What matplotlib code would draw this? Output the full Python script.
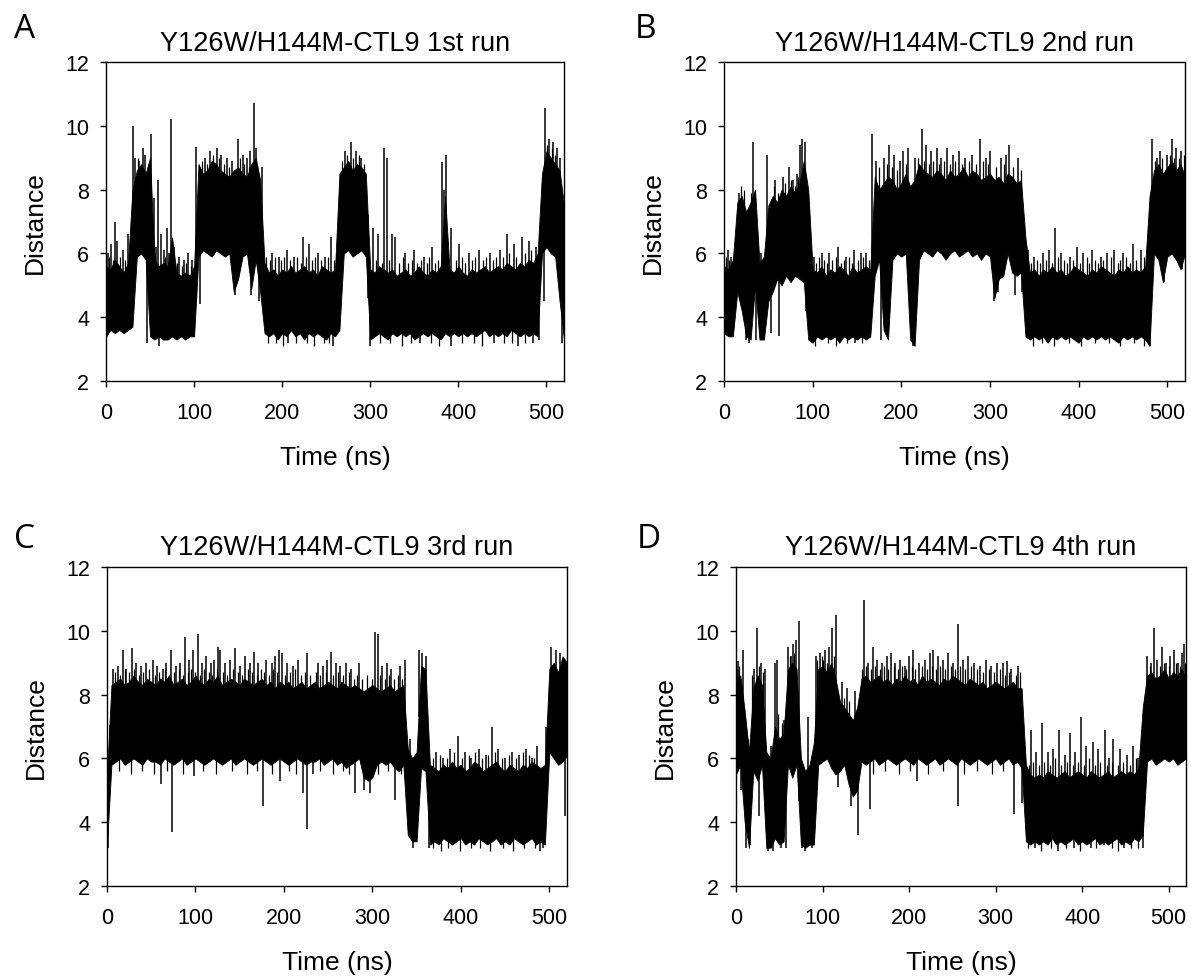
import numpy as np
import matplotlib
matplotlib.use("Agg")
import matplotlib.pyplot as plt

plt.rcParams['font.family'] = ['Liberation Sans', 'DejaVu Sans']

# time grid of the read-off envelope (ns)
time_ns = np.arange(0, 521, 5)

# ---- run 1 (A): lower / upper edge of the trace every 5 ns ----
a_lo = [3.4, 3.6, 3.5, 3.6, 3.5, 3.6, 3.7, 5.9, 6.0, 5.8,   # 0-45
        3.4, 3.3, 3.4, 3.3, 3.3, 3.4, 3.3, 3.4, 3.3, 3.4,   # 50-95
        3.4, 5.9, 6.1, 6.0, 5.9, 6.1, 6.0, 5.9, 6.0, 4.8,   # 100-145
        5.2, 5.9, 6.0, 4.9, 5.8, 4.8, 3.5, 3.4, 3.5, 3.3,   # 150-195
        3.5, 3.4, 3.6, 3.4, 3.5, 3.3, 3.5, 3.4, 3.5, 3.4,   # 200-245
        3.3, 3.5, 3.4, 3.6, 6.0, 6.1, 5.9, 6.0, 6.1, 5.9,   # 250-295
        3.3, 3.4, 3.5, 3.4, 3.3, 3.5, 3.4, 3.5, 3.4, 3.5,   # 300-345
        3.3, 3.4, 3.5, 3.4, 3.5, 3.4, 3.3, 3.5, 3.4, 3.5,   # 350-395
        3.4, 3.5, 3.4, 3.5, 3.4, 3.5, 3.6, 3.4, 3.5, 3.4,   # 400-445
        3.5, 3.4, 3.6, 3.5, 3.4, 3.5, 3.4, 3.5, 3.4, 6.0,   # 450-495
        6.2, 6.0, 5.9, 4.5, 3.3]                            # 500-520
a_hi = [5.6, 5.5, 5.8, 5.6, 5.4, 5.7, 8.0, 8.6, 8.8, 8.5,
        9.0, 5.8, 5.6, 5.7, 5.6, 6.5, 5.4, 5.3, 5.4, 5.3,
        5.6, 8.8, 8.5, 8.6, 8.9, 8.8, 8.6, 8.5, 8.4, 8.6,
        8.7, 8.5, 8.4, 8.8, 9.0, 8.3, 5.7, 5.4, 5.5, 5.3,
        5.5, 5.4, 5.6, 5.4, 5.5, 5.6, 5.4, 5.5, 5.3, 5.6,
        5.5, 5.4, 5.5, 8.5, 8.7, 8.9, 8.6, 8.8, 8.7, 8.5,
        5.5, 5.4, 5.6, 5.5, 5.4, 5.5, 5.3, 5.4, 5.5, 5.3,
        5.4, 5.6, 5.4, 5.3, 5.5, 5.4, 5.6, 7.8, 5.5, 5.4,
        5.6, 5.4, 5.3, 5.5, 5.4, 5.5, 5.6, 5.4, 5.5, 5.6,
        5.5, 5.7, 5.6, 5.5, 5.7, 5.6, 5.8, 5.7, 6.0, 8.5,
        9.2, 9.0, 8.8, 8.6, 7.5]
# single excursions beyond the band: (time, distance)
a_spikes = [(2, 6.0), (6, 6.3), (10, 7.0), (13, 6.4), (19, 6.1), (25, 6.6), (28, 5.9),
            (30.3, 10.0), (33, 9.0), (38, 8.9), (41.7, 9.3), (44, 9.1), (47, 3.2), (50.8, 9.74),
            (54, 7.75), (57, 6.2), (59.5, 8.3), (60, 3.1), (63, 6.6), (66, 6.1), (69, 6.8),
            (72, 6.0), (74, 10.2), (77, 6.2), (83, 5.9), (88, 5.8), (93, 6.0), (98, 5.8),
            (102, 9.35), (107, 4.4), (112, 9.0), (118, 9.2), (126, 9.3), (131, 9.1), (137, 9.0),
            (143, 8.9), (147, 4.7), (150, 9.6), (155, 9.1), (160, 9.0), (164, 9.2), (165, 4.7),
            (168.5, 10.7), (170, 9.3), (174, 4.5), (177, 8.7), (188, 6.0), (196, 5.9), (205, 6.1),
            (207, 3.2), (214, 5.9), (224, 6.5), (230, 6.3), (241, 6.0), (249, 5.9), (255.7, 6.5),
            (258, 3.1), (262, 6.0), (271.6, 9.2), (278, 9.5), (284, 9.2), (290, 9.0), (297, 4.6),
            (300, 3.1), (303, 6.8), (309, 6.6), (315.8, 9.3), (318.9, 9.0), (324.8, 6.6),
            (328.4, 6.5), (340, 6.0), (350, 6.1), (356, 3.2), (361, 5.9), (370, 6.2), (381.4, 8.85),
            (384, 8.0), (386, 9.1), (391.7, 6.8), (392, 3.1), (400.4, 6.3), (412, 6.0), (424, 6.1),
            (436, 6.0), (440, 3.2), (447, 6.1), (455, 6.6), (463, 6.3), (468, 3.1), (472.7, 6.5),
            (480, 6.4), (485, 3.2), (488, 6.2), (492, 3.3), (497, 4.5), (498, 10.57), (503, 9.6),
            (508, 9.5), (512, 9.3), (516, 9.0), (518, 3.2)]
# short hairs on the band edges: (time, distance)
a_hairs = [(3, 5.9), (8, 5.8), (16, 5.9), (22, 5.8), (36, 9.0), (40, 8.7), (56, 6.0), (67, 5.9),
           (81, 5.7), (86, 5.6), (91, 5.7), (96, 5.6), (109, 8.9), (115, 8.8), (121, 9.1),
           (128, 9.0), (134, 8.8), (140, 8.7), (152, 9.0), (157, 8.8), (162, 8.7), (182, 5.9),
           (186, 5.8), (192, 5.9), (199, 5.8), (202, 5.9), (209, 5.8), (217, 5.9), (221, 5.7),
           (227, 5.9), (234, 5.8), (237, 5.9), (244, 5.8), (252, 5.9), (259, 5.8), (184, 3.2),
           (193, 3.2), (201, 3.1), (216, 3.2), (228, 3.2), (236, 3.1), (247, 3.2), (253, 3.2),
           (268, 8.9), (274, 9.1), (281, 9.0), (287, 9.1), (293, 8.8), (306, 5.8), (313, 5.7),
           (321, 5.8), (333, 5.7), (337, 5.9), (343, 5.7), (347, 5.8), (353, 5.7), (358, 5.8),
           (364, 5.7), (367, 5.9), (374, 5.7), (377, 5.8), (397, 5.8), (404, 5.9), (408, 5.7),
           (415, 5.8), (419, 5.9), (428, 5.8), (432, 5.9), (439, 5.8), (443, 5.9), (451, 5.9),
           (458, 6.0), (466, 5.9), (476, 6.0), (483, 6.1), (311, 3.2), (322, 3.2), (336, 3.1),
           (346, 3.2), (369, 3.2), (378, 3.1), (404, 3.2), (418, 3.2), (427, 3.1), (452, 3.2),
           (461, 3.2), (476, 3.2), (501, 9.4), (506, 9.3), (510, 9.1)]

# ---- run 2 (B) ----
b_lo = [3.5, 3.4, 3.4, 4.8, 4.2, 3.4, 3.3, 5.0, 3.3, 3.3,
        4.5, 4.8, 5.2, 5.0, 5.3, 5.1, 5.3, 5.2, 5.1, 3.3,
        3.2, 3.4, 3.3, 3.4, 3.3, 3.4, 3.2, 3.4, 3.3, 3.4,
        3.3, 3.4, 3.3, 3.4, 5.3, 5.8, 3.6, 3.3, 5.8, 6.0,
        5.9, 6.0, 3.3, 3.1, 5.8, 6.1, 6.0, 5.9, 6.1, 6.0,
        5.8, 6.0, 6.1, 5.9, 6.0, 6.1, 5.9, 6.0, 5.8, 6.0,
        5.9, 4.6, 5.2, 5.3, 6.0, 5.4, 5.3, 5.4, 3.4, 3.3,
        3.4, 3.3, 3.4, 3.2, 3.4, 3.3, 3.4, 3.3, 3.4, 3.3,
        3.2, 3.4, 3.3, 3.4, 3.3, 3.4, 3.3, 3.4, 3.3, 3.2,
        3.4, 3.3, 3.4, 3.3, 3.4, 3.3, 3.1, 6.0, 5.8, 5.1,
        5.9, 6.0, 5.8, 5.5, 6.0]
b_hi = [5.6, 5.5, 5.8, 7.6, 7.8, 7.3, 7.6, 8.0, 5.7, 5.9,
        7.5, 7.8, 7.6, 8.0, 7.8, 8.1, 7.9, 8.2, 8.9, 8.0,
        5.5, 5.4, 5.6, 5.3, 5.5, 5.4, 5.6, 5.5, 5.3, 5.6,
        5.4, 5.5, 5.6, 5.5, 8.4, 8.0, 8.2, 8.4, 8.3, 8.0,
        8.2, 8.5, 8.1, 8.3, 8.8, 8.6, 8.5, 8.4, 8.6, 8.5,
        8.3, 8.6, 8.4, 8.5, 8.7, 8.4, 8.6, 8.5, 8.3, 8.4,
        8.5, 8.3, 8.4, 8.2, 8.5, 8.4, 8.2, 8.3, 6.5, 5.4,
        5.5, 5.3, 5.5, 5.4, 5.6, 5.4, 5.5, 5.3, 5.4, 5.6,
        5.5, 5.4, 5.3, 5.5, 5.4, 5.6, 5.5, 5.4, 5.3, 5.5,
        5.4, 5.6, 5.4, 5.5, 5.4, 5.6, 7.8, 8.6, 8.8, 8.5,
        8.7, 8.9, 8.6, 8.8, 8.4]
b_spikes = [(4, 6.1), (8, 5.9), (14.6, 6.1), (17, 7.9), (21, 7.6), (25, 3.3), (28, 3.2), (33, 9.5),
            (36, 3.3), (42, 6.0), (49, 9.1), (53, 3.5), (58, 8.3), (62, 3.4), (66, 8.4), (73, 8.7),
            (78, 8.3), (82, 8.5), (86, 9.4), (88, 9.6), (91, 9.5), (93, 4.2), (101, 5.9), (110, 6.0),
            (119, 6.0), (129, 6.2), (138, 5.9), (147, 6.1), (148, 3.2), (155, 6.0), (160, 6.0),
            (167, 9.75), (172, 8.9), (177, 3.3), (181, 9.0), (186, 9.4), (192, 9.1), (198, 8.9),
            (202, 9.2), (207, 9.3), (213, 3.1), (216, 9.0), (223, 9.9), (228, 9.4), (233, 9.2),
            (240, 9.3), (245, 9.0), (252, 9.3), (258, 9.1), (265, 9.2), (272, 9.0), (280, 9.1),
            (289, 9.6), (295, 9.0), (300, 9.2), (304, 4.5), (309, 4.8), (313, 9.0), (318, 9.1),
            (322, 9.4), (328, 4.7), (332, 9.0), (336, 4.8), (343, 6.1), (350, 5.9), (360, 6.0),
            (367, 6.1), (373.6, 6.8), (380, 6.0), (390, 5.9), (398, 6.2), (405, 6.0), (415, 6.1),
            (425, 5.9), (432, 6.0), (440, 6.1), (450, 6.0), (461, 6.3), (470, 6.1), (478, 6.0),
            (481, 3.1), (483, 9.6), (488, 9.0), (492, 9.2), (496, 5.1), (500, 9.1), (505, 9.6),
            (510, 9.3), (515, 9.2), (517, 5.5)]
b_hairs = [(2, 5.9), (6, 5.8), (11, 6.0), (19, 8.1), (23, 8.0), (31, 7.9), (56, 8.1), (61, 7.9),
           (69, 8.2), (76, 8.3), (80, 8.1), (84, 8.4), (98, 5.8), (104, 5.7), (107, 5.9), (113, 5.8),
           (116, 5.7), (122, 5.8), (126, 5.9), (132, 5.7), (135, 5.8), (141, 5.9), (144, 5.7),
           (151, 5.8), (157, 5.9), (163, 5.8), (103, 3.1), (117, 3.2), (126, 3.1), (139, 3.2),
           (156, 3.2), (175, 8.7), (184, 8.8), (189, 8.7), (195, 8.6), (205, 8.8), (219, 9.0),
           (226, 8.9), (231, 8.8), (236, 8.9), (243, 8.8), (248, 8.9), (255, 8.8), (261, 8.9),
           (268, 8.8), (276, 8.9), (284, 8.8), (292, 8.9), (298, 8.8), (307, 8.7), (316, 8.8),
           (326, 8.7), (335, 8.6), (346, 5.7), (353, 5.8), (357, 5.7), (363, 5.8), (370, 5.7),
           (377, 5.9), (384, 5.8), (387, 5.7), (394, 5.8), (402, 5.7), (409, 5.9), (412, 5.7),
           (419, 5.8), (422, 5.7), (428, 5.8), (436, 5.9), (444, 5.7), (447, 5.8), (454, 5.9),
           (458, 5.7), (465, 5.8), (474, 5.9), (348, 3.1), (359, 3.2), (372, 3.1), (389, 3.2),
           (403, 3.1), (418, 3.2), (434, 3.2), (447, 3.1), (462, 3.2), (474, 3.1), (486, 8.9),
           (494, 9.0), (503, 9.1), (508, 9.0), (513, 9.0), (519, 9.1)]

# ---- run 3 (C) ----
c_lo = [3.3, 5.8, 5.9, 6.0, 5.8, 5.9, 6.0, 5.9, 5.8, 6.0,
        5.9, 5.9, 5.8, 6.0, 5.9, 5.8, 5.9, 6.0, 5.8, 5.9,
        6.0, 5.9, 5.8, 5.9, 6.0, 5.9, 5.8, 5.9, 6.0, 5.8,
        5.9, 6.0, 5.9, 5.8, 5.9, 6.0, 5.9, 5.8, 5.9, 6.0,
        5.9, 5.8, 5.9, 6.0, 5.9, 5.8, 5.9, 5.9, 6.0, 5.8,
        5.9, 6.0, 5.8, 5.9, 5.7, 5.8, 5.9, 6.0, 5.4, 5.3,
        5.4, 5.8, 5.9, 5.8, 5.9, 5.7, 5.6, 5.8, 3.6, 3.4,
        3.4, 5.7, 5.6, 3.3, 3.4, 3.3, 3.5, 3.4, 3.3, 3.4,
        3.5, 3.3, 3.4, 3.3, 3.5, 3.4, 3.3, 3.4, 3.5, 3.3,
        3.4, 3.3, 3.5, 3.4, 3.3, 3.4, 3.5, 3.3, 3.4, 3.3,
        6.2, 6.0, 5.8, 5.9, 6.1]
c_hi = [5.5, 8.3, 8.4, 8.5, 8.3, 8.4, 8.6, 8.4, 8.3, 8.5,
        8.4, 8.3, 8.5, 8.4, 8.6, 8.3, 8.4, 8.5, 8.3, 8.4,
        8.6, 8.4, 8.3, 8.5, 8.4, 8.6, 8.3, 8.4, 8.5, 8.4,
        8.3, 8.5, 8.4, 8.3, 8.4, 8.5, 8.3, 8.4, 8.2, 8.4,
        8.3, 8.4, 8.2, 8.3, 8.4, 8.2, 8.3, 8.4, 8.2, 8.3,
        8.4, 8.3, 8.2, 8.4, 8.3, 8.2, 8.3, 8.2, 8.1, 8.2,
        8.3, 8.2, 8.1, 8.2, 8.3, 8.1, 8.2, 8.3, 6.3, 6.0,
        6.2, 8.9, 8.8, 5.8, 5.7, 5.6, 5.8, 5.7, 5.9, 5.7,
        5.8, 5.6, 5.7, 5.9, 5.8, 5.6, 5.7, 5.8, 5.9, 5.7,
        5.6, 5.8, 5.7, 5.6, 5.8, 5.7, 5.9, 5.8, 5.7, 5.8,
        8.8, 9.0, 8.7, 9.2, 9.0]
c_spikes = [(1, 3.2), (3, 5.6), (7, 8.8), (12, 8.9), (17.7, 9.4), (22, 8.8), (28, 9.45), (33, 9.0),
            (38, 8.9), (44, 9.0), (51.6, 9.1), (56, 8.9), (61, 5.2), (63, 8.8), (67, 9.0), (72, 9.4),
            (74, 3.7), (78, 8.9), (83, 9.0), (88, 9.8), (93, 9.1), (97, 9.4), (98, 5.45),
            (102.5, 9.9), (107, 9.0), (112, 9.2), (117, 9.0), (121, 9.1), (126, 9.5), (128, 9.4),
            (133, 9.0), (139, 9.1), (145, 9.45), (150, 8.9), (156, 9.2), (162, 9.0), (166, 9.35),
            (171, 9.0), (176, 4.5), (180, 9.1), (186, 9.0), (190, 9.2), (194, 9.4), (196, 5.3),
            (198, 9.3), (204, 9.0), (210, 8.9), (216, 9.1), (222, 4.9), (226, 9.3), (226.5, 3.8),
            (233, 5.5), (238, 9.0), (244, 8.9), (249, 9.1), (253, 9.35), (258.5, 9.0), (263, 8.9),
            (270, 9.0), (276, 8.8), (280, 4.9), (285, 9.0), (290, 5.0), (297, 4.9), (303, 9.95),
            (306, 9.9), (311, 8.9), (316, 9.0), (321, 8.8), (326, 4.7), (331, 8.9), (337, 9.1),
            (342, 6.6), (346, 3.2), (353, 9.4), (356, 9.3), (361, 9.2), (364, 3.2), (372, 6.2),
            (380, 6.0), (388, 6.3), (397, 6.7), (405, 6.2), (412, 6.0), (420, 6.3), (428, 6.1),
            (435, 7.0), (442, 6.3), (450, 6.0), (458, 6.2), (466, 6.1), (474, 6.3), (480, 6.0),
            (486, 6.4), (490, 3.1), (493, 3.2), (496, 7.0), (502, 9.5), (507, 9.4), (512, 9.3),
            (518, 4.2)]
c_hairs = [(9, 8.7), (15, 8.6), (20, 8.8), (25, 8.7), (31, 8.8), (36, 8.6), (41, 8.7), (47, 8.8),
           (54, 8.6), (59, 8.7), (65, 8.8), (70, 8.6), (76, 8.7), (81, 8.8), (86, 8.6), (91, 8.7),
           (95, 8.8), (100, 8.7), (105, 8.6), (110, 8.8), (115, 8.7), (119, 8.6), (124, 8.8),
           (131, 8.7), (136, 8.6), (142, 8.8), (148, 8.7), (153, 8.6), (159, 8.8), (164, 8.7),
           (169, 8.6), (174, 8.8), (178, 8.7), (183, 8.6), (188, 8.8), (192, 8.7), (201, 8.6),
           (207, 8.7), (213, 8.8), (219, 8.6), (224, 8.7), (230, 8.6), (236, 8.7), (241, 8.6),
           (247, 8.7), (256, 8.6), (261, 8.7), (267, 8.6), (273, 8.7), (279, 8.5), (283, 8.6),
           (288, 8.5), (294, 8.6), (299, 8.5), (309, 8.6), (314, 8.5), (319, 8.6), (324, 8.5),
           (329, 8.6), (334, 8.5), (14, 5.6), (27, 5.5), (39, 5.6), (53, 5.5), (68, 5.6), (86, 5.5),
           (109, 5.6), (123, 5.5), (141, 5.6), (158, 5.5), (169, 5.6), (187, 5.5), (206, 5.6),
           (214, 5.5), (241, 5.6), (256, 5.5), (267, 5.6), (274, 5.5), (306, 5.5), (318, 5.6),
           (332, 5.5), (368, 6.0), (376, 6.1), (384, 6.0), (392, 6.2), (401, 6.0), (409, 6.1),
           (416, 6.2), (424, 6.0), (431, 6.1), (439, 6.2), (446, 6.0), (454, 6.1), (462, 6.0),
           (470, 6.2), (477, 6.1), (483, 6.0), (369, 3.2), (378, 3.1), (386, 3.2), (399, 3.1),
           (411, 3.2), (422, 3.2), (433, 3.1), (448, 3.2), (459, 3.1), (471, 3.2), (484, 3.2)]

# ---- run 4 (D) ----
d_lo = [5.5, 5.8, 4.0, 3.2, 5.6, 5.3, 5.8, 3.2, 3.2, 3.5,
        3.3, 3.4, 5.8, 5.4, 5.8, 3.3, 3.2, 3.3, 3.3, 5.8,
        5.9, 6.0, 5.7, 5.5, 5.6, 5.8, 5.2, 4.8, 5.0, 5.9,
        5.8, 5.9, 6.0, 5.8, 5.9, 6.0, 5.9, 5.8, 5.9, 6.0,
        5.9, 5.8, 6.0, 5.9, 5.8, 5.9, 6.0, 5.8, 5.9, 6.0,
        5.9, 5.8, 6.0, 5.9, 5.8, 5.9, 6.0, 5.9, 5.8, 5.9,
        6.0, 5.8, 5.9, 6.0, 5.8, 5.9, 5.7, 3.4, 3.3, 3.4,
        3.3, 3.4, 3.3, 3.5, 3.3, 3.4, 3.3, 3.4, 3.5, 3.3,
        3.4, 3.3, 3.4, 3.5, 3.3, 3.4, 3.3, 3.4, 3.5, 3.3,
        3.4, 3.3, 3.5, 3.4, 3.6, 5.9, 6.0, 5.8, 5.9, 6.0,
        5.9, 6.0, 5.8, 5.9, 6.0]
d_hi = [8.5, 8.6, 7.5, 6.2, 8.2, 8.6, 8.3, 6.2, 6.0, 7.0,
        6.6, 6.8, 8.8, 9.0, 8.8, 6.0, 5.6, 5.8, 6.5, 8.8,
        8.9, 8.7, 9.0, 8.5, 7.8, 7.6, 7.4, 7.2, 7.6, 8.5,
        8.6, 8.4, 8.5, 8.6, 8.4, 8.5, 8.3, 8.5, 8.4, 8.6,
        8.4, 8.5, 8.3, 8.6, 8.4, 8.5, 8.4, 8.3, 8.5, 8.4,
        8.6, 8.5, 8.4, 8.3, 8.5, 8.4, 8.3, 8.4, 8.2, 8.3,
        8.4, 8.3, 8.2, 8.3, 8.4, 8.2, 8.2, 5.8, 5.5, 5.4,
        5.5, 5.4, 5.6, 5.5, 5.4, 5.5, 5.6, 5.4, 5.5, 5.6,
        5.5, 5.4, 5.6, 5.5, 5.4, 5.5, 5.6, 5.4, 5.5, 5.6,
        5.5, 5.6, 5.5, 5.7, 7.6, 8.6, 8.7, 8.5, 8.6, 8.8,
        8.5, 8.7, 8.6, 8.8, 8.5]
d_spikes = [(2.7, 9.06), (6, 5.0), (8.5, 9.4), (12, 3.2), (16, 3.3), (18, 6.8), (21, 8.8),
            (24, 10.1), (27, 4.2), (29, 9.0), (33, 8.8), (37, 3.1), (41, 6.4), (43, 3.1), (45, 9.0),
            (47, 9.1), (52, 3.2), (55, 7.2), (58, 3.2), (60, 9.5), (63, 9.2), (66, 9.6), (69, 9.7),
            (73, 10.3), (76, 3.2), (80, 3.1), (83.6, 7.3), (88, 3.2), (92, 9.2), (97, 9.3),
            (103, 9.4), (107, 9.5), (110.5, 10.1), (115.5, 10.5), (118, 5.1), (122, 8.4),
            (128, 8.2), (133, 4.5), (138, 8.1), (141.4, 3.6), (148, 10.95), (152, 9.0), (155, 4.4),
            (158, 9.5), (163, 9.1), (169, 9.0), (174, 9.2), (179, 9.3), (184, 9.0), (190, 9.1),
            (195, 8.9), (200, 9.2), (205, 9.4), (209, 5.3), (212, 9.0), (218, 9.1), (224, 9.3),
            (228, 9.4), (233, 9.2), (239, 9.1), (245, 9.3), (251, 9.0), (256, 10.2), (256.5, 4.5),
            (262, 9.1), (268, 9.2), (275, 9.0), (282, 8.9), (289, 9.1), (295, 8.9), (302, 9.0),
            (308.9, 9.0), (313, 9.05), (318, 8.8), (321.8, 4.25), (326, 8.9), (330, 4.6),
            (341, 6.9), (345, 3.2), (347, 6.2), (353.6, 7.1), (360, 6.2), (366, 6.3), (372, 3.1),
            (373.5, 6.9), (380, 6.1), (386, 6.8), (390, 3.2), (392, 6.2), (398.8, 7.3), (405, 6.4),
            (410, 3.2), (412, 6.5), (418, 6.3), (425, 3.3), (426.5, 6.9), (431, 6.0), (436, 6.6),
            (444, 6.3), (448, 3.2), (452, 6.1), (459, 6.4), (465, 6.0), (470, 3.2), (475, 9.2),
            (480, 9.0), (483, 10.1), (487, 9.1), (492, 9.5), (497, 9.0), (502, 9.2), (506, 9.4),
            (511, 9.0), (515, 9.3), (518, 9.6)]
d_hairs = [(1, 8.8), (4, 8.9), (14, 6.6), (19, 8.6), (26, 8.9), (31, 8.7), (49, 7.4), (53, 7.1),
           (62, 9.2), (67, 9.3), (94, 9.1), (99, 9.2), (101, 9.1), (105, 9.0), (113, 9.2),
           (125, 7.9), (130, 7.8), (146, 8.8), (150, 8.9), (156, 8.8), (161, 8.9), (166, 8.8),
           (171, 8.9), (176, 8.8), (182, 8.9), (187, 8.8), (192, 8.9), (197, 8.8), (203, 8.9),
           (207, 8.8), (215, 8.9), (221, 8.8), (226, 8.9), (231, 8.8), (236, 8.9), (242, 8.8),
           (248, 8.9), (253, 8.8), (259, 8.9), (265, 8.8), (271, 8.9), (278, 8.8), (285, 8.7),
           (292, 8.8), (298, 8.7), (305, 8.8), (311, 8.6), (316, 8.7), (323, 8.6), (328, 8.7),
           (158, 5.5), (172, 5.6), (188, 5.5), (201, 5.6), (222, 5.5), (239, 5.6), (263, 5.5),
           (279, 5.6), (296, 5.5), (309, 5.6), (338, 5.8), (343, 5.9), (350, 5.8), (356, 5.9),
           (363, 5.8), (369, 6.0), (376, 5.8), (383, 5.9), (389, 5.8), (395, 5.9), (402, 5.8),
           (408, 6.0), (415, 5.8), (421, 5.9), (429, 5.8), (434, 5.9), (441, 5.8), (447, 5.9),
           (455, 5.8), (462, 6.0), (467, 5.9), (337, 3.2), (352, 3.1), (364, 3.2), (381, 3.2),
           (397, 3.1), (416, 3.2), (434, 3.2), (441, 3.1), (457, 3.2), (464, 3.2), (478, 8.9),
           (490, 8.9), (495, 9.0), (500, 8.9), (508, 9.0), (513, 8.9), (519, 9.0)]

titles = ["Y126W/H144M-CTL9 1st run", "Y126W/H144M-CTL9 2nd run",
          "Y126W/H144M-CTL9 3rd run", "Y126W/H144M-CTL9 4th run"]
letters = ["A", "B", "C", "D"]

W, H = 1191, 978
fig = plt.figure(figsize=(W / 100, H / 100), dpi=100)

# axes boxes in pixels: left, top, right, bottom
boxes = [(106, 63, 564, 382), (724, 63, 1185, 382),
         (107, 568, 567, 887), (736, 568, 1186, 887)]
letter_pos = [(14, 38), (635, 38), (14, 548), (637, 548)]
runs = [(a_lo, a_hi, a_spikes, a_hairs), (b_lo, b_hi, b_spikes, b_hairs),
        (c_lo, c_hi, c_spikes, c_hairs), (d_lo, d_hi, d_spikes, d_hairs)]


def draw_marks(ax, marks, lo, hi, lw):
    mt = np.array([m[0] for m in marks])
    md = np.array([m[1] for m in marks])
    k = np.clip(np.round(mt / 5).astype(int), 0, len(time_ns) - 1)
    base = (lo[k] + hi[k]) / 2
    ax.vlines(mt, base, md, color='black', lw=lw)


for i, (lo, hi, spikes, hairs) in enumerate(runs):
    l, t, r, b = boxes[i]
    ax = fig.add_axes([l / W, 1 - b / H, (r - l) / W, (b - t) / H])
    lo = np.array(lo)
    hi = np.array(hi)
    ax.fill_between(time_ns, lo, hi, color='black', lw=0.6)
    draw_marks(ax, hairs, lo, hi, 0.9)
    draw_marks(ax, spikes, lo, hi, 1.1)

    ax.set_xlim(0, 520)
    ax.set_ylim(2, 12)
    ax.set_xticks([0, 100, 200, 300, 400, 500])
    ax.set_yticks([2, 4, 6, 8, 10, 12])
    ax.tick_params(axis='both', direction='out', length=4, width=1, labelsize=15.5)
    ax.tick_params(axis='x', pad=11)
    ax.tick_params(axis='y', pad=8)
    for sp in ax.spines.values():
        sp.set_linewidth(1.0)
    ax.set_title(titles[i], fontsize=19.5, pad=9)
    ax.set_xlabel("Time (ns)", fontsize=19, va='top')
    ax.xaxis.set_label_coords(0.5, -64 / (b - t))
    ax.set_ylabel("Distance", fontsize=19)
    ax.yaxis.set_label_coords(-59 / (r - l), 0.5)

    lx, ly = letter_pos[i]
    fig.text(lx / W, 1 - ly / H, letters[i], fontsize=24, family='Open Sans', va='baseline')

fig.savefig("out.png", dpi=100)
